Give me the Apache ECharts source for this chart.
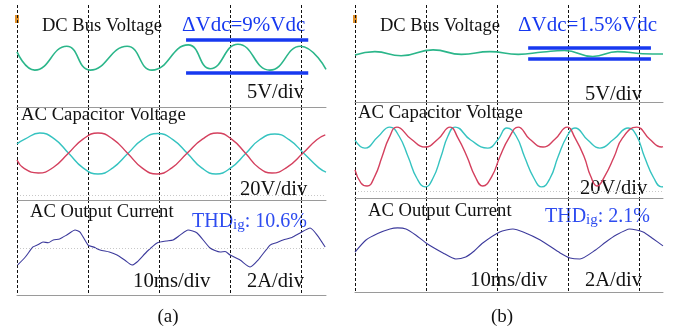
<!DOCTYPE html>
<html>
<head>
<meta charset="utf-8">
<script src="https://cdn.jsdelivr.net/npm/echarts@6/dist/echarts.min.js"></script>
<style>
  html, body { margin: 0; padding: 0; background: #fff; }
  #chart { width: 673px; height: 330px; }
</style>
</head>
<body>
<div id="chart"></div>
<script>
// time in ms (10 ms/div), values relative to trace centre (V or A)
// --- panel (a)
const dcBusA = [[0,0.8],[2.5,-1.8],[7.0,1.6],[10.3,-1.8],[15.5,1.6],[19.0,-1.8],[24.1,1.8],[27.2,-1.6],[31.1,1.9],[35.6,-1.8],[39.9,1.6],[43.5,-1.7]]
const capCyanA = [[0,5.5],[1.1,8.2],[3.2,11.7],[5.3,8.2],[7.3,0],[9.3,-8.2],[11.4,-11.7],[13.5,-8.2],[15.6,0],[17.7,8.1],[19.8,11.4],[21.9,8.1],[24.0,0],[26.0,-8.2],[28.0,-11.7],[30.1,-8.2],[32.2,0],[34.2,8.0],[36.3,11.1],[38.3,7.9],[40.4,0],[42.5,-8.2],[43.5,-10.6]]
const capRedA = [[0,-3.7],[1.0,-8.5],[3.0,-11.1],[5.1,-8.0],[7.2,0],[9.3,8.2],[11.4,11.7],[13.5,8.2],[15.6,0],[17.6,-8.2],[19.7,-11.7],[21.8,-8.2],[23.9,0],[26.1,8.2],[28.2,11.7],[30.2,8.2],[32.2,0],[34.0,-8.0],[35.9,-11.1],[38.0,-7.9],[40.2,0],[42.2,7.9],[43.4,10.6]]
const currentA = [[0.1,-0.97],[1.2,-0.5],[2.25,0.06],[3.0,0.2],[3.66,0.34],[4.4,0.3],[5.1,0.46],[6.0,0.52],[7.0,0.74],[8.17,1.03],[8.87,0.91],[10.0,0.17],[10.8,0.05],[11.69,-0.11],[13.0,-0.23],[14.08,-0.4],[15.2,-0.7],[16.2,-0.97],[16.9,-0.8],[18.3,-0.2],[19.72,0.29],[21.0,0.4],[21.97,0.46],[23.0,0.75],[24.08,1.03],[25.35,0.86],[27.18,0],[28.6,-0.23],[29.3,-0.2],[30.0,-0.4],[31.4,-0.69],[32.82,-1.09],[33.94,-0.69],[35.63,0.17],[36.5,0.3],[37.46,0.46],[38.7,0.6],[39.86,0.86],[41.27,1.14],[42.25,0.74],[43.38,0.06]]
const deltaA = { t: [23.8, 41.0], levels: [2.5, -2.2] }

// --- panel (b)
const dcBusB = [[0,-0.3],[2.8,0.2],[6.5,-0.4],[11.0,0.45],[15.0,-0.2],[19.0,0.2],[23.0,-0.2],[26.5,0.15],[29.5,0.35],[33.5,-0.5],[37.0,0.2],[40.5,-0.1],[43.4,-0.15]]
const capCyanB = [[0,9.7],[1.4,5.1],[3.2,11.4],[4.9,17.1],[6.2,12.0],[7.5,0],[8.7,-12.0],[9.9,-17.1],[11.0,-12.0],[12.1,0],[13.1,12.0],[14.1,17.1],[16.3,9.7],[18.7,5.1],[20.1,9.7],[21.4,16.6],[22.7,12.0],[23.9,0],[25.2,-12.0],[26.3,-17.1],[27.5,-12.0],[28.6,0],[29.9,12.0],[31.0,16.6],[32.8,9.7],[34.5,5.1],[36.5,10.3],[38.5,16.6],[39.7,12.0],[40.8,0],[42.1,-12.0],[43.2,-17.1],[43.4,-17.0]]
const capRedB = [[0,-7.4],[0.85,-14.9],[1.7,-16.6],[2.8,-10.9],[3.8,0],[4.8,10.9],[5.9,17.1],[7.9,10.3],[9.9,5.7],[11.7,10.3],[13.4,17.1],[14.5,10.9],[15.8,0],[16.9,-10.9],[18.0,-16.6],[19.3,-10.9],[20.4,0],[21.7,10.9],[23.0,17.1],[24.6,10.3],[26.5,5.7],[28.2,10.3],[29.9,17.1],[31.0,10.9],[32.3,0],[33.2,-10.9],[34.1,-16.6],[35.2,-10.9],[36.5,0],[37.7,10.9],[39.7,17.1],[41.5,10.3],[43.2,5.7],[43.4,5.9]]
const currentB = [[0,-0.46],[1.55,0.23],[3.2,0.6],[4.93,0.86],[6.0,0.92],[7.18,0.86],[8.6,0.5],[10.0,0.06],[12.4,-0.51],[14.2,-0.86],[15.6,-0.74],[16.8,-0.4],[18.0,0.06],[20.4,0.69],[22.25,0.86],[23.7,0.69],[26.1,0.23],[28.9,-0.51],[30.3,-0.8],[31.7,-0.86],[33.9,-0.34],[35.3,0.1],[36.8,0.51],[38.7,0.86],[40.6,0.69],[42.0,0.3],[43.4,-0.11]]
const deltaB = { t: [24.4, 41.7], levels: [0.71, -0.86] }

const colors = {
  dc: '#2bb68a',
  cyan: '#35c3c0',
  red: '#d4405e',
  current: '#3c3a9c',
  blue: '#1739f0',
  thd: '#2e4cf0'
}

const serif = 'Liberation Serif, Times New Roman, serif'

const chart = echarts.init(document.getElementById('chart'), null, { renderer: 'canvas' })

const grids = [
  { left: 17, top: 5, width: 309, height: 102 },
  { left: 17, top: 107, width: 309, height: 93 },
  { left: 17, top: 200, width: 309, height: 95 },
  { left: 355, top: 5, width: 308, height: 97 },
  { left: 355, top: 102, width: 308, height: 96 },
  { left: 355, top: 198, width: 308, height: 94 }
]
const yRanges = [
  [-7.07, 7.5], [-26.57, 26.57], [-2.686, 2.743],
  [-7.0, 6.857], [-23.43, 31.43], [-2.743, 2.629]
]

const xAxes = grids.map((g, i) => ({
  gridIndex: i,
  type: 'value',
  min: 0,
  max: i < 3 ? 43.5 : 43.4,
  interval: 10,
  axisLabel: { show: false },
  axisTick: { show: false },
  axisLine: { show: true, onZero: false, lineStyle: { color: '#9a9a9a', width: 1 } },
  splitLine: {
    show: true,
    showMaxLine: false,
    lineStyle: { color: '#111', type: [3, 2], width: 1 }
  }
}))

const yAxes = yRanges.map((r, i) => ({
  gridIndex: i,
  type: 'value',
  min: r[0],
  max: r[1],
  show: false,
  splitLine: { show: false }
}))

const trace = (idx, data, color, width, extra) => Object.assign({
  type: 'line',
  xAxisIndex: idx,
  yAxisIndex: idx,
  data: data,
  showSymbol: false,
  smooth: 0.5,
  lineStyle: { color: color, width: width },
  silent: true
}, extra || {})

const deltaBars = (d) => ({
  silent: true,
  symbol: ['none', 'none'],
  label: { show: false },
  lineStyle: { color: colors.blue, width: 3.5, type: 'solid' },
  data: d.levels.map(v => [{ coord: [d.t[0], v] }, { coord: [d.t[1], v] }])
})

const dotted = (vals) => ({
  silent: true,
  symbol: ['none', 'none'],
  label: { show: false },
  lineStyle: { color: '#c8c8c8', width: 1, type: [1, 2] },
  data: vals.map(v => ({ yAxis: v }))
})

const txt = (text, x, y, size, color, align) => ({
  type: 'text',
  x: x, y: y,
  style: {
    text: text,
    font: `${size}px ${serif}`,
    fill: color || '#111',
    align: align || 'left',
    verticalAlign: 'middle'
  }
})

const thd = (value, x, y) => ({
  type: 'text',
  x: x, y: y,
  style: {
    text: `{a|THD}{b|ig}{a|: ${value}}`,
    verticalAlign: 'middle',
    rich: {
      a: { font: `20px ${serif}`, fill: colors.thd },
      b: { font: `15px ${serif}`, fill: colors.thd, padding: [6, 0, 0, 0] }
    }
  }
})

chart.setOption({
  animation: false,
  backgroundColor: '#fff',
  grid: grids,
  xAxis: xAxes,
  yAxis: yAxes,
  series: [
    trace(0, dcBusA, colors.dc, 1.6, { markLine: deltaBars(deltaA) }),
    trace(1, capCyanA, colors.cyan, 1.4, { markLine: dotted([-23.7]) }),
    trace(1, capRedA, colors.red, 1.4),
    trace(2, currentA, colors.current, 1.1, { smooth: 0.2, markLine: dotted([0]) }),
    trace(3, dcBusB, colors.dc, 1.6, { markLine: deltaBars(deltaB) }),
    trace(4, capCyanB, colors.cyan, 1.4, { markLine: dotted([-19.4]) }),
    trace(4, capRedB, colors.red, 1.4),
    trace(5, currentB, colors.current, 1.1, { smooth: 0.2 })
  ],
  graphic: [
    { type: 'rect', shape: { x: 15, y: 15, width: 4, height: 8 }, style: { fill: '#e0902a' } },
    { type: 'rect', shape: { x: 353, y: 15, width: 4, height: 8 }, style: { fill: '#e0902a' } },
    // panel (a)
    txt('DC Bus Voltage', 42, 26, 18.5),
    txt('ΔVdc=9%Vdc', 182, 25, 21, colors.blue),
    txt('5V/div', 247, 93, 20.5),
    txt('AC Capacitor Voltage', 21, 115, 18.7),
    txt('20V/div', 240, 190, 20.5),
    txt('AC Output Current', 30, 212, 18.6),
    thd('10.6%', 192, 222),
    txt('10ms/div', 133, 282, 20.8),
    txt('2A/div', 247, 282, 20.5),
    txt('(a)', 168, 317, 19, '#111', 'center'),
    // panel (b)
    txt('DC Bus Voltage', 380, 26, 18.5),
    txt('ΔVdc=1.5%Vdc', 518, 25, 21, colors.blue),
    txt('5V/div', 585, 95, 20.5),
    txt('AC Capacitor Voltage', 358, 113, 18.7),
    txt('20V/div', 580, 189, 20.5),
    txt('AC Output Current', 368, 211, 18.6),
    thd('2.1%', 545, 217),
    txt('10ms/div', 470, 281, 20.8),
    txt('2A/div', 585, 281, 20.5),
    txt('(b)', 502, 317, 19, '#111', 'center')
  ]
})

window.addEventListener('resize', () => {
  chart.resize()
})
</script>
</body>
</html>
